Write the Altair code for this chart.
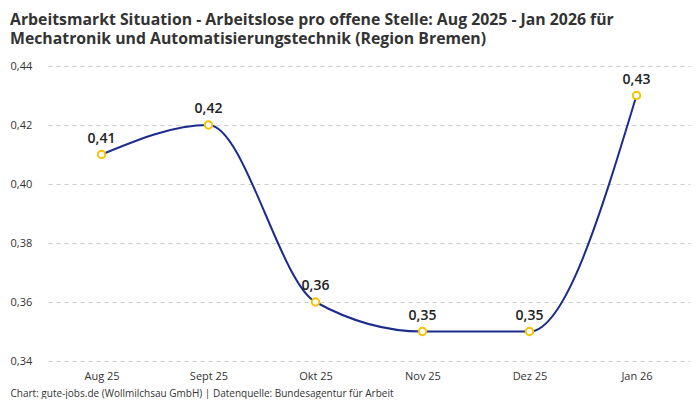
import pandas as pd
import altair as alt

months = ['Aug 25', 'Sept 25', 'Okt 25', 'Nov 25', 'Dez 25', 'Jan 26']
ratio = [0.41, 0.42, 0.36, 0.35, 0.35, 0.43]
y_ticks = [0.34, 0.36, 0.38, 0.40, 0.42, 0.44]

title_lines = ['Arbeitsmarkt Situation - Arbeitslose pro offene Stelle: Aug 2025 - Jan 2026 für',
               'Mechatronik und Automatisierungstechnik (Region Bremen)']
footer = 'Chart: gute-jobs.de (Wollmilchsau GmbH) | Datenquelle: Bundesagentur für Arbeit'

df = pd.DataFrame({'Monat': months, 'Wert': ratio})
df['Label'] = df['Wert'].map(lambda v: f'{v:.2f}'.replace('.', ','))

font = 'Open Sans'

base = alt.Chart(df).encode(
    x=alt.X('Monat:N', sort=months,
            scale=alt.Scale(type='point', padding=0.5),
            axis=alt.Axis(title=footer, labelAngle=0, ticks=False, domain=False,
                          labelPadding=9, labelFontSize=11, labelColor='#333',
                          titleFontSize=10, titleFontWeight='normal', titleColor='#333',
                          titleAnchor='start', titleAlign='left', titleX=-38, titleY=32,
                          titleBaseline='middle')),
    y=alt.Y('Wert:Q', scale=alt.Scale(domain=[0.34, 0.44], nice=False, zero=False),
            axis=alt.Axis(title=None, values=y_ticks, ticks=False, domain=False,
                          labelExpr="replace(format(datum.value, '.2f'), '.', ',')",
                          labelAlign='left', labelPadding=38, labelFontSize=11,
                          labelColor='#333', gridColor='#cccccc', gridDash=[4, 4]))
)

line = base.mark_line(interpolate='monotone', color='#1c2b8c', strokeWidth=2)
points = base.mark_point(filled=True, fill='white', stroke='#f5c400', strokeWidth=2,
                         size=55, opacity=1)
labels = base.mark_text(dy=-16, fontSize=14, fontWeight=600, color='#222').encode(
    text='Label:N')

chart = (line + points + labels).properties(
    width=642, height=295,
    autosize=alt.AutoSizeParams(type='none'),
    padding={'left': 40, 'top': 58, 'right': 2, 'bottom': 38},
    title=alt.TitleParams(title_lines, anchor='start', frame='group', fontSize=15.8,
                          fontWeight='bold', color='#333', lineHeight=19.5,
                          dx=-38, offset=12, font=font)
).configure(font=font).configure_view(stroke=None)

chart.save('out.html', embed_options={'renderer': 'svg', 'actions': False})
